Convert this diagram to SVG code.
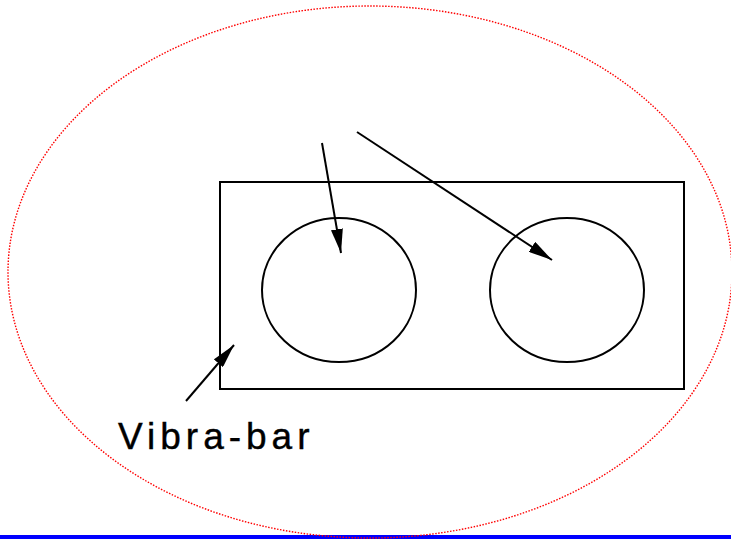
<svg xmlns="http://www.w3.org/2000/svg" width="731" height="540" viewBox="0 0 731 540">
<style>
.ln{stroke:#000;stroke-width:2;fill:none}
.lbl{font-family:"Liberation Sans",Arial,sans-serif;font-size:37px;letter-spacing:5px;fill:#000}
</style>
<defs>
<marker id="ah2" markerWidth="24" markerHeight="12" refX="24" refY="6" orient="auto" markerUnits="userSpaceOnUse">
<path d="M0,0 L24,6 L0,12 Z" fill="#000"/>
</marker>
</defs>
<rect x="0" y="535" width="731" height="4" fill="#0000ff"/>
<g id="boundary">
<ellipse cx="370" cy="272" rx="362" ry="266" fill="none" stroke="#ff0000" stroke-width="1.4" stroke-dasharray="1.5,1.5"/>
</g>
<g id="vibrabar">
<rect class="ln" x="220" y="182" width="464" height="207"/>
</g>
<g id="hole1">
<ellipse class="ln" cx="339" cy="290" rx="77" ry="72"/>
</g>
<g id="hole2">
<ellipse class="ln" cx="567" cy="290" rx="77" ry="72"/>
</g>
<g id="label">
<text class="lbl" x="118" y="449" stroke="#000" stroke-width="0.4">Vibra-bar</text>
</g>
<g id="connectors">
<line class="ln" x1="322" y1="143" x2="341" y2="253" marker-end="url(#ah2)"/>
<line class="ln" x1="357" y1="132" x2="552" y2="260" marker-end="url(#ah2)"/>
<line class="ln" x1="186" y1="401" x2="234" y2="345" marker-end="url(#ah2)"/>
</g>
</svg>
